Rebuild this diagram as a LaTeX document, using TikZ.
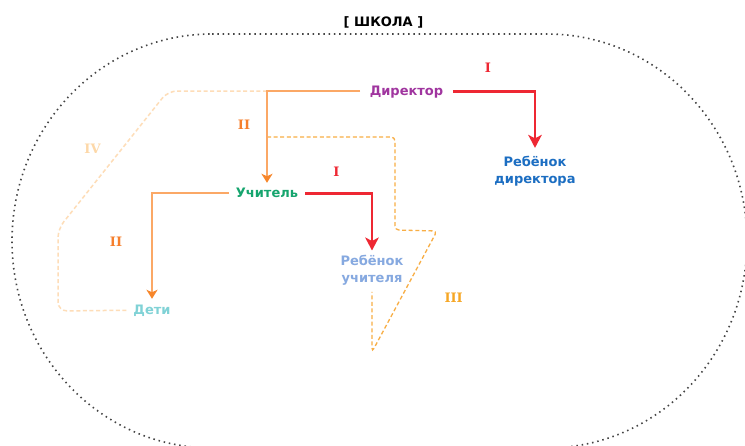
\documentclass[tikz,border=0pt]{standalone}
\usepackage{fontspec}
\setmainfont{DejaVu Sans}
\newfontfamily\romanfont{DejaVu Serif}
\usetikzlibrary{arrows.meta}
\definecolor{cDir}{HTML}{A0359F}
\definecolor{cRD}{HTML}{1C6EC2}
\definecolor{cTeach}{HTML}{16A56E}
\definecolor{cRT}{HTML}{86A9E0}
\definecolor{cKids}{HTML}{80D2D6}
\definecolor{cRed}{HTML}{EE2833}
\definecolor{cOrLine}{HTML}{FBA866}
\definecolor{cOrTip}{HTML}{F7862A}
\definecolor{cII}{HTML}{F67F2C}
\definecolor{cIII}{HTML}{F6A623}
\definecolor{cIV}{HTML}{FDD8A8}
\definecolor{cDashIII}{HTML}{F8AE45}
\definecolor{cDashIV}{HTML}{FEDDB8}
\definecolor{cDots}{HTML}{444444}
\tikzset{
  lbl/.style={font=\fontsize{13}{17}\selectfont\bfseries, inner xsep=8pt, inner ysep=6pt, anchor=base},
  single/.style={text height=9.5pt, text depth=0pt},
  numlbl/.style={font=\romanfont\bfseries\fontsize{13}{15}\selectfont, inner sep=0pt},
  orline/.style={draw=cOrLine, line width=1.8pt, -{Stealth[length=9pt,width=11pt,inset=2.5pt,color=cOrTip]}},
  redline/.style={draw=cRed, line width=2.8pt, -{Stealth[length=13pt,width=13.5pt,inset=3.5pt]}},
  dashIII/.style={draw=cDashIII, line width=1.3pt, dash pattern=on 4pt off 2.6pt},
  dashIV/.style={draw=cDashIV, line width=1.5pt, dash pattern=on 4pt off 2.6pt, rounded corners=9pt},
  school/.style={draw=cDots, line width=1.6pt, dash pattern=on 1.5pt off 3.8pt}
}
\begin{document}
\begin{tikzpicture}[x=1pt,y=-1pt]
\useasboundingbox[fill=white] (0,0) rectangle (745,446);
% school boundary
\draw[school] (212,34) -- (547,34)
  .. controls (657.5,34) and (747,126.7) .. (747,241)
  .. controls (747,355.3) and (657.5,448) .. (547,448)
  -- (212,448)
  .. controls (101.5,448) and (12,355.3) .. (12,241)
  .. controls (12,126.7) and (101.5,34) .. (212,34) -- cycle;
\node[font=\fontsize{13}{17}\selectfont\bfseries, anchor=base, inner sep=0pt] (title) at (383.5,27) {[ ШКОЛА ]};
% nodes
\node[lbl, single, text=cDir, inner xsep=9.5pt] (dir) at (406.5,96) {Директор};
\node[lbl, single, text=cTeach, inner xsep=7pt, inner ysep=5.5pt] (teach) at (267,198) {Учитель};
\node[lbl, single, text=cKids, inner xsep=6pt, inner ysep=6.5pt] (kids) at (152,315) {Дети};
\node[lbl, text=cRD, inner ysep=7pt] (rd) at (535,167) {\begin{tabular}[t]{@{}c@{}}Ребёнок\\директора\end{tabular}};
\node[lbl, text=cRT, inner ysep=3.4pt] (rt) at (372,266) {\begin{tabular}[t]{@{}c@{}}Ребёнок\\учителя\end{tabular}};
% dashed groups
\coordinate (j4) at (dir.west -| teach.north);
\coordinate (j3) at (267,137);
\draw[dashIV] (j4) -- (168,91) -- (58,229) -- (58,311) -- (kids.west);
\draw[dashIII, rounded corners=4pt] (j3) -- (395,137) -- (395,230) -- (437,231) -- (372,352) -- (372,292);
% connectors
\draw[orline] (dir.west) -| (teach.north);
\draw[orline] (teach.west) -| (kids.north);
\draw[redline] (dir.east) -| (rd.north);
\draw[redline] (teach.east) -| (rt.north);
% numerals
\node[numlbl, text=cRed] (n1) at (488,68) {I};
\node[numlbl, text=cRed] (n2) at (336.5,171.7) {I};
\node[numlbl, text=cII] (n3) at (244,125) {II};
\node[numlbl, text=cII] (n4) at (116,241.5) {II};
\node[numlbl, text=cIII] (n5) at (453.7,298) {III};
\node[numlbl, text=cIV] (n6) at (92.5,148.5) {IV};
\end{tikzpicture}
\end{document}
